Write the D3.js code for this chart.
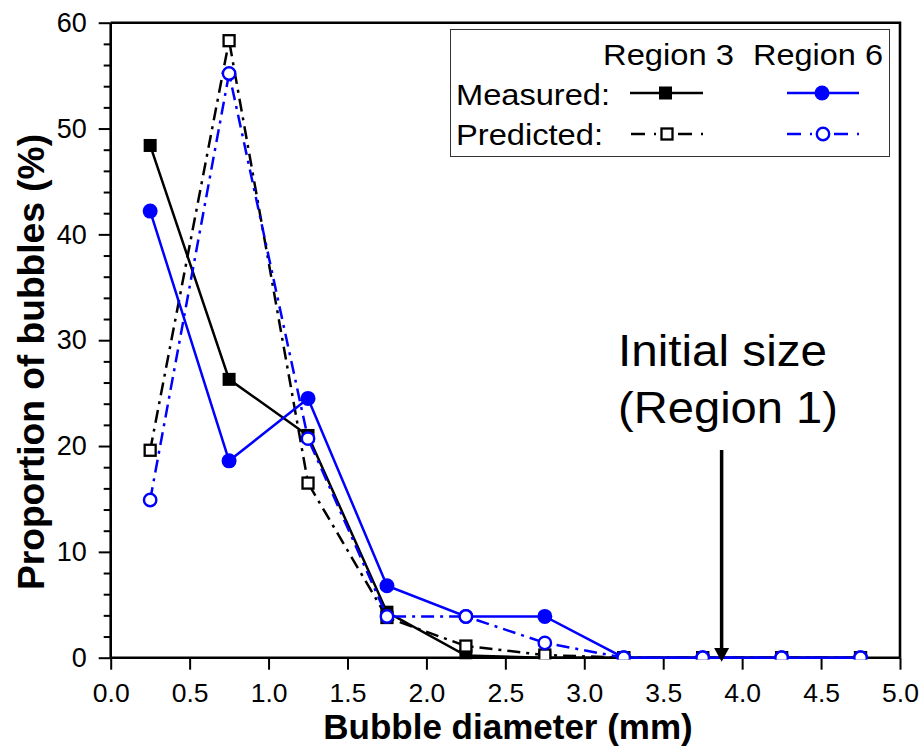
<!DOCTYPE html>
<html>
<head>
<meta charset="utf-8">
<script src="https://cdn.jsdelivr.net/npm/d3@7"></script>
<style>
  html, body { margin: 0; padding: 0; background: #fff; }
  svg { display: block; font-family: "Liberation Sans", Arial, sans-serif; }
</style>
</head>
<body>
<svg id="chart" width="922" height="746"></svg>
<script>
// ---- data ----
const diameters = [0.25, 0.75, 1.25, 1.75, 2.25, 2.75, 3.25, 3.75, 4.25, 4.75];
const region3Measured  = [48.4, 26.3, 21.0, 4.3, 0.2, 0, 0, 0, 0, 0];
const region3Predicted = [19.6, 58.3, 16.5, 3.8, 1.1, 0.25, 0, 0, 0, 0];
const region6Measured  = [42.2, 18.6, 24.5, 6.8, 3.9, 3.9, 0, 0, 0, 0];
const region6Predicted = [14.9, 55.2, 20.7, 3.9, 3.9, 1.4, 0, 0, 0, 0];
const xTicks = [0, 0.5, 1.0, 1.5, 2.0, 2.5, 3.0, 3.5, 4.0, 4.5, 5.0];
const yTicks = [0, 10, 20, 30, 40, 50, 60];
const yMinorTicks = d3.range(0, 61, 2).filter(v => v % 10 !== 0);
const initialSizeX = 3.87;
const xTitle = "Bubble diameter (mm)";
const yTitle = "Proportion of bubbles (%)";

// ---- layout ----
const svg = d3.select("#chart");
const x = d3.scaleLinear().domain([0, 5]).range([110.7, 900]);
const y = d3.scaleLinear().domain([0, 60]).range([657.7, 22.7]);
const blue = "#0000ff";
const dashDot = "13,6,3,6";

// clip for data
svg.append("defs").append("clipPath").attr("id", "plotClip")
  .append("rect").attr("x", x(0)).attr("y", y(60)).attr("width", x(5) - x(0)).attr("height", y(0) - y(60) + 1.5);

// axes
const xAxis = svg.append("g").attr("transform", `translate(0,${y(0)})`)
  .call(d3.axisBottom(x).tickValues(xTicks).tickFormat(d3.format(".1f")).tickSize(12).tickPadding(13));
xAxis.selectAll("text").attr("font-size", 26.5).attr("font-family", "Liberation Sans, Arial, sans-serif").attr("fill", "#000");

const yAxis = svg.append("g").attr("transform", `translate(${x(0)},0)`)
  .call(d3.axisLeft(y).tickValues(yTicks).tickSize(12).tickPadding(12));
yAxis.selectAll("text").attr("font-size", 27).attr("font-family", "Liberation Sans, Arial, sans-serif").attr("fill", "#000");

const yMinor = svg.append("g").attr("transform", `translate(${x(0)},0)`)
  .call(d3.axisLeft(y).tickValues(yMinorTicks).tickSize(7).tickFormat(""));
yMinor.select(".domain").remove();

[xAxis, yAxis, yMinor].forEach(g => {
  g.selectAll(".tick line").attr("stroke", "#000").attr("stroke-width", 2);
  g.select(".domain").attr("stroke", "#000").attr("stroke-width", 2.6);
});
xAxis.select(".domain").attr("d", `M${x(0)},0H${x(5)}`);
yAxis.select(".domain").attr("d", `M0,${y(0)}V${y(60)}`);

// frame top/right
svg.append("path")
  .attr("d", `M${x(0)},${y(60)}H${x(5)}V${y(0)}`)
  .attr("fill", "none").attr("stroke", "#000").attr("stroke-width", 2.6);

// series
const series = [
  { values: region3Measured, color: "#000", dash: null, marker: "fsquare" },
  { values: region3Predicted, color: "#000", dash: dashDot, marker: "osquare" },
  { values: region6Measured, color: blue, dash: null, marker: "fcircle" },
  { values: region6Predicted, color: blue, dash: dashDot, marker: "ocircle" }
];

function drawMarker(g, type, cx, cy, color) {
  if (type === "fsquare") {
    g.append("rect").attr("x", cx - 6.5).attr("y", cy - 6.5).attr("width", 13).attr("height", 13).attr("fill", color);
  } else if (type === "osquare") {
    g.append("rect").attr("x", cx - 5.5).attr("y", cy - 5.5).attr("width", 11).attr("height", 11)
      .attr("fill", "#fff").attr("stroke", color).attr("stroke-width", 2.3);
  } else if (type === "fcircle") {
    g.append("circle").attr("cx", cx).attr("cy", cy).attr("r", 7.5).attr("fill", color);
  } else {
    g.append("circle").attr("cx", cx).attr("cy", cy).attr("r", 6.2)
      .attr("fill", "#fff").attr("stroke", color).attr("stroke-width", 2.4);
  }
}

const plot = svg.append("g").attr("clip-path", "url(#plotClip)");
const line = d3.line().x((d, i) => x(diameters[i])).y(d => y(d));
series.forEach(s => {
  plot.append("path").datum(s.values).attr("d", line)
    .attr("fill", "none").attr("stroke", s.color).attr("stroke-width", 2.5)
    .attr("stroke-dasharray", s.dash);
  s.values.forEach((v, i) => drawMarker(plot, s.marker, x(diameters[i]), y(v), s.color));
});

// annotation arrow
const ax = x(initialSizeX);
svg.append("line").attr("x1", ax).attr("x2", ax).attr("y1", 450).attr("y2", 650)
  .attr("stroke", "#000").attr("stroke-width", 3.5);
svg.append("path").attr("d", `M${ax - 7.5},${648}L${ax + 7.5},${648}L${ax},${y(0) + 4}Z`).attr("fill", "#000");
svg.append("text").attr("x", 618).attr("y", 366).attr("font-size", 45)
  .attr("textLength", 209).attr("lengthAdjust", "spacingAndGlyphs").text("Initial size");
svg.append("text").attr("x", 618).attr("y", 423).attr("font-size", 45)
  .attr("textLength", 220).attr("lengthAdjust", "spacingAndGlyphs").text("(Region 1)");

// legend
const lg = svg.append("g");
lg.append("rect").attr("x", 450.5).attr("y", 29.5).attr("width", 439).attr("height", 127)
  .attr("fill", "#fff").attr("stroke", "#333").attr("stroke-width", 1);
const legendText = [
  { t: "Region 3", x: 603, y: 65, w: 131 },
  { t: "Region 6", x: 753, y: 65, w: 130 },
  { t: "Measured:", x: 456, y: 105, w: 154 },
  { t: "Predicted:", x: 456, y: 145, w: 147 }
];
legendText.forEach(d => {
  lg.append("text").attr("x", d.x).attr("y", d.y).attr("font-size", 29)
    .attr("textLength", d.w).attr("lengthAdjust", "spacingAndGlyphs").text(d.t);
});
const legendItems = [
  { s: series[0], x1: 630, x2: 703, y: 93 },
  { s: series[2], x1: 787, x2: 859, y: 93 },
  { s: series[1], x1: 631, x2: 705, y: 134 },
  { s: series[3], x1: 787, x2: 861, y: 134 }
];
legendItems.forEach(d => {
  const mid = (d.x1 + d.x2) / 2;
  if (d.s.dash) {
    [[d.x1, mid - 8], [mid + 10, d.x2]].forEach(([a, b]) => {
      lg.append("line").attr("x1", a).attr("x2", b).attr("y1", d.y).attr("y2", d.y)
        .attr("stroke", d.s.color).attr("stroke-width", 2.6).attr("stroke-dasharray", "14,9,2,10");
    });
  } else {
    lg.append("line").attr("x1", d.x1).attr("x2", d.x2).attr("y1", d.y).attr("y2", d.y)
      .attr("stroke", d.s.color).attr("stroke-width", 2.6);
  }
  drawMarker(lg, d.s.marker, mid - 1, d.y, d.s.color);
});

// axis titles
svg.append("text").attr("x", 508).attr("y", 739).attr("text-anchor", "middle")
  .attr("font-size", 35).attr("font-weight", "bold").text(xTitle);
svg.append("text").attr("transform", "translate(44,362) rotate(-90)").attr("text-anchor", "middle")
  .attr("font-size", 36).attr("font-weight", "bold").attr("textLength", 456).attr("lengthAdjust", "spacingAndGlyphs")
  .text(yTitle);
</script>
</body>
</html>
